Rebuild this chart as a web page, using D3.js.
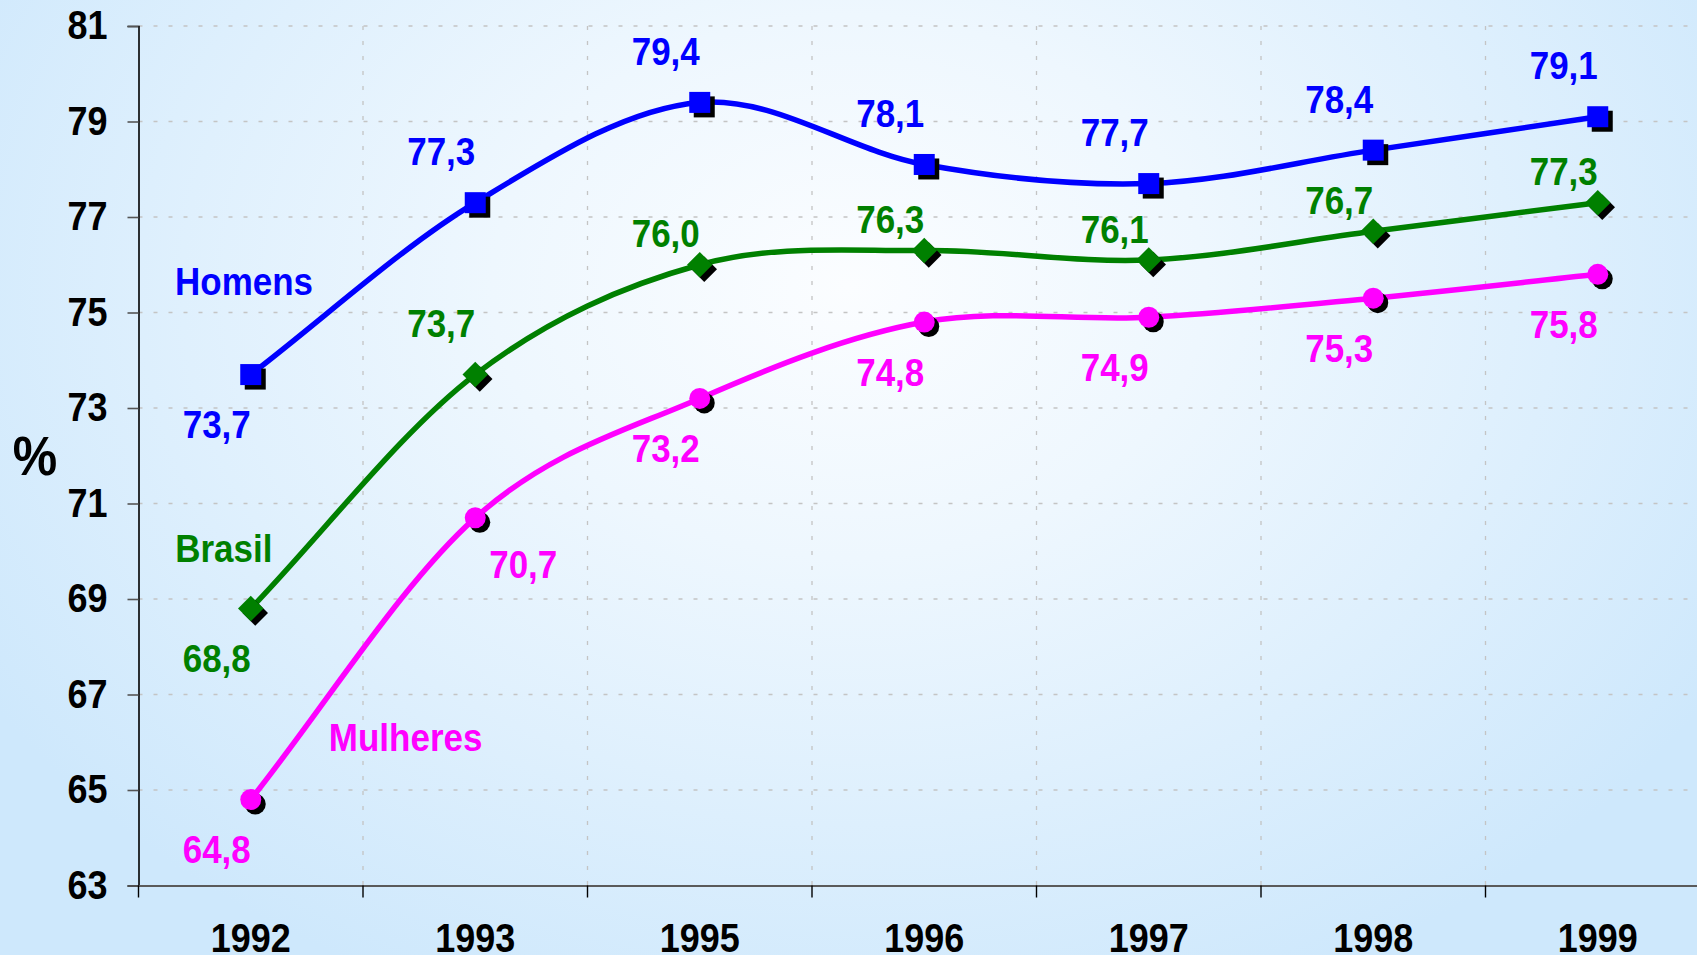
<!DOCTYPE html>
<html>
<head>
<meta charset="utf-8">
<script src="https://cdn.jsdelivr.net/npm/d3@7"></script>
<style>
  html, body { margin: 0; padding: 0; overflow: hidden; }
  svg text { font-family: "Liberation Sans", Arial, sans-serif; font-weight: bold; }
</style>
</head>
<body>
<svg id="chart"></svg>
<script>
// esperança de vida
let years = ['1992', '1993', '1995', '1996', '1997', '1998', '1999'];
let homens = [73.7, 77.3, 79.4, 78.1, 77.7, 78.4, 79.1];
let brasil = [68.8, 73.7, 76.0, 76.3, 76.1, 76.7, 77.3];
let mulheres = [64.8, 70.7, 73.2, 74.8, 74.9, 75.3, 75.8];
let yTicks = [63, 65, 67, 69, 71, 73, 75, 77, 79, 81];
// onde fica o rotulo de cada ponto (a = acima, c = acima perto, b = abaixo, r = abaixo a direita)
let homensPos = ['b', 'a', 'a', 'a', 'a', 'a', 'a'];
let brasilPos = ['b', 'a', 'c', 'c', 'c', 'c', 'c'];
let mulheresPos = ['b', 'r', 'b', 'b', 'b', 'b', 'b'];

let W = 1697, H = 955;
let STRETCH = 1.12; // letras um pouco esticadas na vertical, como no original

let svg = d3.select('#chart')
  .attr('width', W)
  .attr('height', H);

// estica o texto na vertical mantendo a posicao
function stretch(sel) {
  sel.each(function() {
    let t = d3.select(this);
    let tx = +t.attr('x') || 0, ty = +t.attr('y') || 0;
    t.attr('x', 0).attr('y', 0)
      .attr('transform', `translate(${tx},${ty}) scale(1,${STRETCH})`);
  });
}

// fundo em degrade
let defs = svg.append('defs');
let grad = defs.append('radialGradient')
  .attr('id', 'bg')
  .attr('cx', '0.5').attr('cy', '0.3')
  .attr('r', '0.6')
  .attr('gradientTransform', 'translate(0.5,0.3) scale(1,1.35) translate(-0.5,-0.3)');
grad.append('stop').attr('offset', '0%').attr('stop-color', '#fbfdff');
grad.append('stop').attr('offset', '35%').attr('stop-color', '#eef7fe');
grad.append('stop').attr('offset', '100%').attr('stop-color', '#cee8fc');

svg.append('rect')
  .attr('width', W).attr('height', H)
  .attr('fill', 'url(#bg)');

let x = d3.scaleBand()
  .domain(years)
  .range([138.5, 138.5 + 7 * 224.5])
  .padding(0);

let y = d3.scaleLinear()
  .domain([63, 81])
  .range([885.5, 26]);

let cx = (d, i) => x(years[i]) + x.bandwidth() / 2;

// grade
svg.append('g')
  .selectAll('line')
  .data(yTicks.slice(1))
  .enter()
  .append('line')
  .attr('x1', x.range()[0]).attr('x2', W)
  .attr('y1', d => y(d)).attr('y2', d => y(d))
  .attr('stroke', '#c4c4c4')
  .attr('stroke-width', 1.3)
  .attr('stroke-dasharray', '4,11');

svg.append('g')
  .selectAll('line')
  .data(years.slice(1))
  .enter()
  .append('line')
  .attr('x1', d => x(d)).attr('x2', d => x(d))
  .attr('y1', y(81)).attr('y2', y(63))
  .attr('stroke', '#c4c4c4')
  .attr('stroke-width', 1.3)
  .attr('stroke-dasharray', '4,11');

// eixos
let yAxis = d3.axisLeft(y)
  .tickValues(yTicks)
  .tickSize(11)
  .tickPadding(20);
let yAxisGroup = svg.append('g')
  .attr('transform', `translate(${x.range()[0]},0)`)
  .call(yAxis);
yAxisGroup.select('.domain').attr('stroke', '#000').attr('stroke-width', 1.6);
yAxisGroup.selectAll('.tick line').attr('stroke', '#555').attr('stroke-width', 1.6);
yAxisGroup.selectAll('text')
  .attr('font-size', 36)
  .attr('fill', '#000')
  .call(stretch);

let xAxis = d3.axisBottom(x)
  .tickSize(0)
  .tickPadding(38);
let xAxisGroup = svg.append('g')
  .attr('transform', `translate(0,${y(63)})`)
  .call(xAxis);
xAxisGroup.select('.domain').attr('stroke', '#5a5a5a').attr('stroke-width', 2.2);
xAxisGroup.selectAll('text')
  .attr('font-size', 36)
  .attr('fill', '#000')
  .call(stretch);

// marcas entre categorias
xAxisGroup.selectAll('.sep')
  .data(years)
  .enter()
  .append('line')
  .attr('class', 'sep')
  .attr('x1', d => x(d)).attr('x2', d => x(d))
  .attr('y1', 0).attr('y2', 12)
  .attr('stroke', '#000')
  .attr('stroke-width', 1.4);

svg.append('text')
  .attr('x', 35)
  .attr('y', y(72))
  .attr('dy', '0.35em')
  .attr('text-anchor', 'middle')
  .attr('font-size', 50)
  .attr('fill', '#000')
  .text('%')
  .call(stretch);

// linha suavizada estilo excel (pontas com tangente = corda)
function smoothPath(values) {
  let p = values.map((d, i) => [cx(d, i), y(d)]);
  let n = p.length;
  let m = p.map((pt, i) => {
    let a = p[Math.max(i - 1, 0)], b = p[Math.min(i + 1, n - 1)];
    let k = (i === 0 || i === n - 1) ? 1 : 0.5;
    return [(b[0] - a[0]) * k, (b[1] - a[1]) * k];
  });
  let path = d3.path();
  path.moveTo(p[0][0], p[0][1]);
  for (let i = 0; i < n - 1; i++) {
    path.bezierCurveTo(
      p[i][0] + m[i][0] / 3, p[i][1] + m[i][1] / 3,
      p[i + 1][0] - m[i + 1][0] / 3, p[i + 1][1] - m[i + 1][1] / 3,
      p[i + 1][0], p[i + 1][1]);
  }
  return path.toString();
}

let series = [
  { name: 'Mulheres', values: mulheres, pos: mulheresPos, color: '#ff00ff', shape: 'circle', nx: 0.69, ny: 66.1 },
  { name: 'Brasil', values: brasil, pos: brasilPos, color: '#008000', shape: 'diamond', nx: -0.12, ny: 70.07 },
  { name: 'Homens', values: homens, pos: homensPos, color: '#0000ff', shape: 'square', nx: -0.03, ny: 75.66 }
];

function marker(g, shape, fill, dx) {
  if (shape === 'square') {
    g.append('rect')
      .attr('x', -10.5 + dx).attr('y', -10.5 + dx)
      .attr('width', 21).attr('height', 21)
      .attr('fill', fill);
  } else if (shape === 'diamond') {
    g.append('rect')
      .attr('x', -9 + dx).attr('y', -9 + dx)
      .attr('width', 18).attr('height', 18)
      .attr('transform', `rotate(45, ${dx}, ${dx})`)
      .attr('fill', fill);
  } else {
    g.append('circle')
      .attr('cx', dx).attr('cy', dx)
      .attr('r', 10.5)
      .attr('fill', fill);
  }
}

let labelDy = { a: -51, c: -31, b: 50, r: 46 };

series.forEach(s => {
  svg.append('path')
    .datum(s.values)
    .attr('d', smoothPath)
    .attr('fill', 'none')
    .attr('stroke', s.color)
    .attr('stroke-width', 5.5);

  let pts = svg.append('g')
    .selectAll('g')
    .data(s.values)
    .enter()
    .append('g')
    .attr('transform', (d, i) => `translate(${cx(d, i)},${y(d)})`);
  pts.each(function() {
    marker(d3.select(this), s.shape, '#000', 4.5);
    marker(d3.select(this), s.shape, s.color, 0);
  });

  svg.append('g')
    .selectAll('text')
    .data(s.values)
    .enter()
    .append('text')
    .attr('x', (d, i) => cx(d, i) + (s.pos[i] === 'r' ? 48 : -34))
    .attr('y', (d, i) => y(d) + labelDy[s.pos[i]])
    .attr('dy', '0.35em')
    .attr('text-anchor', 'middle')
    .attr('font-size', 35)
    .attr('fill', s.color)
    .text(d => d3.format('.1f')(d).replace('.', ','))
    .call(stretch);

  svg.append('text')
    .attr('x', x(years[0]) + x.bandwidth() / 2 + s.nx * x.bandwidth())
    .attr('y', y(s.ny))
    .attr('dy', '0.35em')
    .attr('text-anchor', 'middle')
    .attr('font-size', 35)
    .attr('fill', s.color)
    .text(s.name)
    .call(stretch);
});
</script>
</body>
</html>
